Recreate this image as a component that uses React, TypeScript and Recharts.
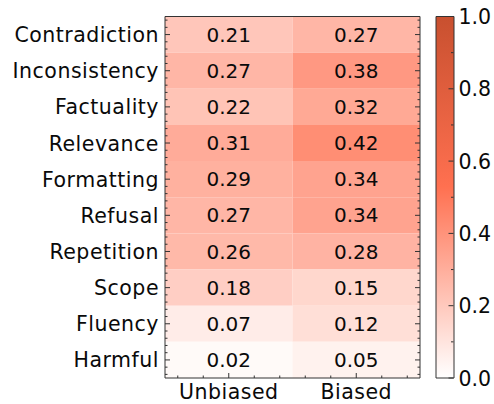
import React from 'react';
import { ScatterChart, BarChart, Bar, XAxis, YAxis, ReferenceArea } from 'recharts';

const rows = ['Contradiction', 'Inconsistency', 'Factuality', 'Relevance', 'Formatting', 'Refusal', 'Repetition', 'Scope', 'Fluency', 'Harmful'];
const columns = ['Unbiased', 'Biased'];
const unbiased = [0.21, 0.27, 0.22, 0.31, 0.29, 0.27, 0.26, 0.18, 0.07, 0.02];
const biased = [0.27, 0.38, 0.32, 0.42, 0.34, 0.34, 0.28, 0.15, 0.12, 0.05];
const colorbarTicks = [0, 0.1, 0.2, 0.3, 0.4, 0.5, 0.6, 0.7, 0.8, 0.9, 1.0];
const colorbarRange = [{ name: 'scale', top: 1.0 }];
const cmapStops: [number, number[]][] = [
  [0, [255, 255, 255]],
  [0.53, [255, 112, 80]],
  [1, [200, 80, 47]],
];

const FONT = '"DejaVu Sans", sans-serif';
const FS = 20;
const LFS = 20.5;
const LSP = 0.5;
const INK = '#333';
const TXT = '#0a0a0a';

function cmap(v: number): string {
  for (let i = 1; i < cmapStops.length; i++) {
    const [p0, c0] = cmapStops[i - 1];
    const [p1, c1] = cmapStops[i];
    if (v <= p1) {
      const t = (v - p0) / (p1 - p0);
      const c = c0.map((a, k) => Math.round(a + (c1[k] - a) * t));
      return `rgb(${c[0]},${c[1]},${c[2]})`;
    }
  }
  const c = cmapStops[cmapStops.length - 1][1];
  return `rgb(${c[0]},${c[1]},${c[2]})`;
}

const series = [unbiased, biased];
const rowTicks: number[] = [];
for (let k = 0; k < rows.length * 5; k++) rowTicks.push(+(k * 0.2 + 0.1).toFixed(2));
const colTicks: number[] = [];
for (let k = 0; k < columns.length * 5; k++) colTicks.push(+(k * 0.2 + 0.1).toFixed(2));
const isMajor = (v: number) => Math.round(v * 10) % 10 === 5;

const LeftTick = (p: any) => {
  const { x, y, payload } = p;
  const v = payload.value;
  const major = isMajor(v);
  return (
    <g>
      <line x1={x} x2={x + (major ? 5 : 2.5)} y1={y} y2={y} stroke={INK} strokeWidth={1} />
      {major && (
        <text x={x - 6} y={y} dy={7.5} textAnchor="end" fontFamily={FONT} fontSize={LFS} letterSpacing={LSP} fill={TXT}>
          {rows[Math.floor(v)]}
        </text>
      )}
    </g>
  );
};
const RightTick = (p: any) => {
  const { x, y, payload } = p;
  const major = isMajor(payload.value);
  return <line x1={x} x2={x - (major ? 5 : 2.5)} y1={y} y2={y} stroke={INK} strokeWidth={1} />;
};
const BottomTick = (p: any) => {
  const { x, y, payload } = p;
  const v = payload.value;
  const major = isMajor(v);
  return (
    <g>
      <line x1={x} x2={x} y1={y} y2={y - (major ? 5 : 2.5)} stroke={INK} strokeWidth={1} />
      {major && (
        <text x={x} y={y + 21} textAnchor="middle" fontFamily={FONT} fontSize={LFS} letterSpacing={LSP} fill={TXT}>
          {columns[Math.floor(v)]}
        </text>
      )}
    </g>
  );
};
const TopTick = (p: any) => {
  const { x, y, payload } = p;
  const major = isMajor(payload.value);
  return <line x1={x} x2={x} y1={y} y2={y + (major ? 5 : 2.5)} stroke={INK} strokeWidth={1} />;
};
const CbarTick = (p: any) => {
  const { x, y, payload } = p;
  const v = payload.value;
  const major = Math.round(v * 10) % 2 === 0;
  return (
    <g>
      <line x1={x} x2={x - (major ? 5 : 2.5)} y1={y} y2={y} stroke={INK} strokeWidth={1} />
      {major && (
        <text x={x + 5} y={y} dy={7.5} textAnchor="start" fontFamily={FONT} fontSize={LFS} fill={TXT}>
          {v.toFixed(1)}
        </text>
      )}
    </g>
  );
};

export default function App() {
  const axisLine = { stroke: INK, strokeWidth: 1 };
  return (
    <div style={{ position: 'absolute', left: 0, top: 0, width: 494, height: 404, background: '#fff', display: 'flex', flexDirection: 'row' }}>
      <div style={{ width: 430, height: 404, flex: 'none' }}>
        <ScatterChart width={430} height={404} margin={{ top: 15.5, right: 5, bottom: 0, left: 0 }}>
          <XAxis xAxisId="b" type="number" dataKey="x" domain={[0, 2]} ticks={colTicks} interval={0}
            orientation="bottom" height={26} tickSize={0} tickMargin={0} tickLine={false}
            axisLine={axisLine} tick={<BottomTick />} allowDataOverflow />
          <XAxis xAxisId="t" type="number" domain={[0, 2]} ticks={colTicks} interval={0}
            orientation="top" height={1} tickSize={0} tickMargin={0} tickLine={false}
            axisLine={axisLine} tick={<TopTick />} allowDataOverflow />
          <YAxis yAxisId="l" type="number" dataKey="y" domain={[0, 10]} reversed ticks={rowTicks} interval={0}
            orientation="left" width={165} tickSize={0} tickMargin={0} tickLine={false}
            axisLine={axisLine} tick={<LeftTick />} allowDataOverflow />
          <YAxis yAxisId="r" type="number" domain={[0, 10]} reversed ticks={rowTicks} interval={0}
            orientation="right" width={5} tickSize={0} tickMargin={0} tickLine={false}
            axisLine={axisLine} tick={<RightTick />} allowDataOverflow />
          {series.map((vals, c) =>
            vals.map((v, r) => (
              <ReferenceArea key={`${c}-${r}`} xAxisId="b" yAxisId="l" x1={c} x2={c + 1} y1={r} y2={r + 1}
                fill={cmap(v)} fillOpacity={1} stroke="none" ifOverflow="visible"
                label={{ value: v.toFixed(2), position: 'center', fill: TXT, fontSize: FS, fontFamily: FONT }} />
            ))
          )}
        </ScatterChart>
      </div>
      <div style={{ width: 64, height: 404, flex: 'none' }}>
        <BarChart width={64} height={404} data={colorbarRange} barCategoryGap={0}
          margin={{ top: 16.5, right: 0, bottom: 26, left: 6 }}>
          <defs>
            <linearGradient id="cbarGrad" x1="0" y1="1" x2="0" y2="0">
              {cmapStops.map(([o, c]) => (
                <stop key={o} offset={o} stopColor={`rgb(${c[0]},${c[1]},${c[2]})`} />
              ))}
            </linearGradient>
          </defs>
          <XAxis dataKey="name" type="category" height={0} tick={false} axisLine={false} tickLine={false} />
          <YAxis type="number" domain={[0, 1]} ticks={colorbarTicks} interval={0} orientation="right" width={40.5}
            tickSize={0} tickMargin={0} tickLine={false} axisLine={false} tick={<CbarTick />} />
          <Bar dataKey="top" fill="url(#cbarGrad)" stroke={INK} strokeWidth={1} isAnimationActive={false} />
        </BarChart>
      </div>
    </div>
  );
}
